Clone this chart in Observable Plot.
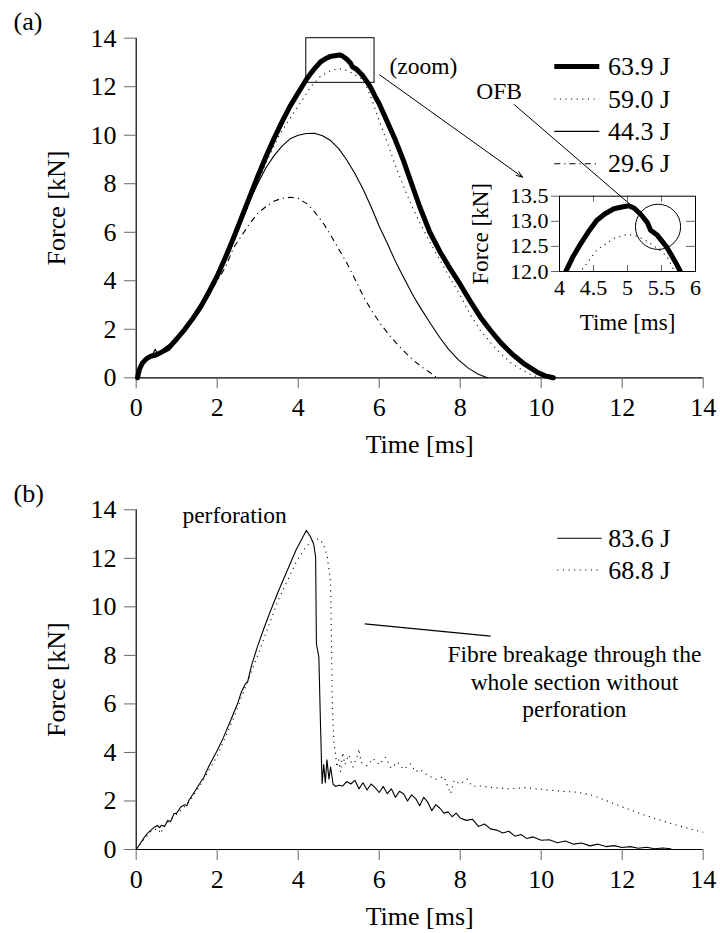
<!DOCTYPE html>
<html><head><meta charset="utf-8">
<script src="https://cdn.jsdelivr.net/npm/d3@7"></script>
<script src="https://cdn.jsdelivr.net/npm/@observablehq/plot@0.6"></script>
<style>
html,body{margin:0;padding:0;background:#fff;}
#chart{position:relative;width:720px;height:933px;background:#fff;overflow:hidden;}
#chart svg{position:absolute;left:0;top:0;}
</style></head><body><div id="chart"></div>
<script>
// ---------- panel (a) data: Force [kN] vs Time [ms] ----------
const t639 = [0.03,0.08,0.15,0.25,0.35,0.5,0.65,0.8,1.0,1.2,1.4,1.6,1.8,2.0,2.2,2.4,2.6,2.8,3.0,3.2,3.4,3.6,3.8,4.0,4.1,4.2,4.31,4.43,4.55,4.67,4.8,4.9,5.02,5.1,5.2,5.29,5.34,5.44,5.58,5.7,5.78,5.9,6.0,6.2,6.4,6.6,6.8,7.0,7.25,7.5,7.75,8.0,8.25,8.5,8.75,9.0,9.3,9.6,9.9,10.1,10.3];
const f639 = [0,0.35,0.6,0.78,0.88,0.95,1.08,1.22,1.6,2.0,2.45,2.95,3.55,4.2,4.95,5.75,6.6,7.45,8.3,9.1,9.85,10.55,11.2,11.75,12.02,12.3,12.55,12.8,13.02,13.15,13.25,13.28,13.31,13.26,13.13,12.98,12.82,12.72,12.48,12.2,11.99,11.6,11.3,10.55,9.8,8.95,8.0,7.05,6.0,5.2,4.5,3.85,3.15,2.5,1.95,1.45,0.95,0.55,0.23,0.08,0];

const t590 = [0.03,0.1,0.2,0.35,0.5,0.7,0.9,1.1,1.3,1.5,1.7,1.9,2.1,2.3,2.5,2.7,2.9,3.1,3.3,3.5,3.7,3.9,4.1,4.31,4.55,4.8,5.0,5.15,5.29,5.45,5.58,5.68,5.8,6.0,6.2,6.4,6.6,6.8,7.0,7.2,7.5,7.75,8.0,8.25,8.5,8.75,9.0,9.25,9.5,9.75,9.98];
const f590 = [0,0.4,0.65,0.85,0.93,1.05,1.35,1.72,2.15,2.6,3.15,3.75,4.45,5.2,6.0,6.8,7.65,8.45,9.2,9.9,10.45,10.95,11.45,12.0,12.43,12.66,12.74,12.7,12.6,12.45,12.3,12.03,11.55,10.6,9.7,8.75,7.9,7.1,6.4,5.75,4.85,4.1,3.4,2.6,1.95,1.45,1.0,0.62,0.35,0.13,0];

const t443 = [0.03,0.1,0.2,0.3,0.42,0.47,0.52,0.6,0.75,0.9,1.05,1.2,1.4,1.6,1.8,2.0,2.2,2.4,2.6,2.8,3.0,3.2,3.4,3.6,3.8,4.0,4.2,4.4,4.6,4.8,5.0,5.2,5.4,5.6,5.8,6.0,6.2,6.4,6.6,6.85,7.05,7.27,7.5,7.7,7.95,8.2,8.45,8.67];
const f443 = [0,0.4,0.65,0.85,1.02,1.18,0.98,1.08,1.3,1.45,1.7,1.95,2.45,2.95,3.55,4.2,4.95,5.7,6.5,7.3,8.0,8.65,9.15,9.55,9.85,10.0,10.07,10.08,9.98,9.78,9.45,8.98,8.42,7.78,7.05,6.25,5.55,4.8,4.15,3.35,2.8,2.23,1.65,1.2,0.75,0.4,0.15,0];

const t296 = [0.03,0.1,0.2,0.3,0.45,0.6,0.8,1.0,1.2,1.4,1.6,1.8,2.0,2.2,2.4,2.6,2.8,3.0,3.2,3.4,3.6,3.81,4.0,4.22,4.4,4.63,4.9,5.21,5.42,5.62,5.82,6.03,6.23,6.44,6.64,6.85,7.05,7.27,7.43];
const f296 = [0,0.4,0.65,0.85,1.0,1.05,1.25,1.55,1.95,2.4,2.9,3.45,4.0,4.55,5.35,5.85,6.35,6.78,7.05,7.28,7.4,7.44,7.4,7.17,6.85,6.35,5.6,4.7,4.0,3.32,2.75,2.23,1.8,1.4,1.05,0.71,0.45,0.2,0];

const seriesALabels = ["63.9 J", "59.0 J", "44.3 J", "29.6 J"];

// ---------- panel (b) data ----------
const t836 = [0,0.1,0.2,0.27,0.35,0.45,0.52,0.58,0.62,0.7,0.78,0.85,0.93,1.0,1.1,1.2,1.25,1.3,1.45,1.6,1.67,1.8,2.0,2.15,2.33,2.5,2.6,2.7,2.75,2.85,2.99,3.15,3.32,3.5,3.73,3.95,4.2,4.3,4.38,4.43,4.45,4.51,4.55,4.59,4.63,4.67,4.71,4.76,4.8,4.86,4.92,5.0,5.1,5.2,5.3,5.4,5.5,5.6,5.7,5.8,5.9,6.0,6.1,6.2,6.3,6.4,6.5,6.6,6.7,6.8,6.9,7.0,7.1,7.2,7.3,7.4,7.5,7.6,7.7,7.8,7.9,8.0,8.15,8.3,8.45,8.6,8.75,8.9,9.05,9.2,9.35,9.5,9.65,9.8,10.0,10.2,10.4,10.6,10.8,11.0,11.2,11.4,11.6,11.8,12.0,12.2,12.4,12.6,12.8,13.0,13.2];
const f836 = [0,0.25,0.5,0.65,0.78,0.92,0.99,0.9,1.0,0.95,1.2,1.15,1.47,1.5,1.75,1.85,1.8,2.02,2.4,2.8,2.98,3.45,4.08,4.6,5.32,6.0,6.5,6.83,6.9,7.6,8.34,9.1,9.85,10.6,11.5,12.35,13.15,12.9,12.6,12.05,8.48,7.93,5.2,2.71,3.5,2.75,3.7,2.9,3.4,2.7,2.6,2.65,2.62,2.8,2.7,2.85,2.5,2.75,2.45,2.7,2.55,2.35,2.6,2.3,2.5,2.15,2.4,2.3,2.0,2.25,2.1,1.8,2.15,1.95,1.6,1.85,1.7,1.5,1.55,1.35,1.5,1.3,1.2,1.25,0.95,1.05,0.85,0.8,0.68,0.75,0.55,0.62,0.45,0.52,0.38,0.4,0.28,0.35,0.22,0.27,0.15,0.22,0.12,0.16,0.08,0.12,0.05,0.09,0.03,0.06,0.03];

const t688 = [0,0.2,0.4,0.55,0.6,0.7,1.0,1.3,1.6,2.0,2.4,2.8,3.0,3.5,3.97,4.2,4.4,4.51,4.62,4.72,4.78,4.8,4.82,4.84,4.88,4.96,5.0,5.05,5.1,5.15,5.25,5.35,5.45,5.5,5.55,5.7,5.85,6.0,6.15,6.3,6.45,6.6,6.77,6.9,7.0,7.2,7.4,7.6,7.76,7.85,8.0,8.17,8.3,8.5,8.8,9.2,9.6,10.0,10.5,10.9,11.3,11.7,12.12,12.5,12.95,13.5,14.0];
const f688 = [0,0.45,0.8,0.85,0.65,1.0,1.45,1.95,2.7,3.85,5.4,7.15,8.0,10.25,11.91,12.5,12.75,12.81,12.6,12.05,11.3,10.95,8.7,6.14,4.49,3.39,3.7,3.2,4.0,3.5,3.9,3.4,3.8,4.15,3.6,3.45,3.75,3.5,3.8,3.35,3.6,3.3,3.53,3.2,3.3,3.05,2.9,3.0,2.3,2.85,2.7,2.9,2.6,2.62,2.55,2.5,2.55,2.48,2.4,2.36,2.22,1.95,1.68,1.45,1.2,0.93,0.71];

const seriesBLabels = ["83.6 J", "68.8 J"];

// ---------- ticks ----------
const xTicks = [0, 2, 4, 6, 8, 10, 12, 14];
const yTicks = [0, 2, 4, 6, 8, 10, 12, 14];
const insetXTicks = [4, 4.5, 5, 5.5, 6];
const insetYTicks = [12, 12.5, 13, 13.5];

// ---------- annotations (data units) ----------
const zoomBox = [{x1: 4.2, x2: 5.885, y1: 12.16, y2: 14}];
const zoomArrow = [{x1: 6.01, y1: 12.49, x2: 9.54, y2: 8.27}];
const zoomLabel = [{x: 7.09, y: 12.83, text: "(zoom)"}];
const ofbLabel = [{x: 3.113, y: 15.58, text: "OFB"}];          // inset units
const ofbLine = [{x1: 3.33, y1: 15.33, x2: 5.24, y2: 13.1}];    // inset units
const ofbCircle = [{x: 5.449, y: 12.89}];                       // inset units
const perfLabel = [{x: 2.43, y: 13.78, text: "perforation"}];
const fibreLine = [{x1: 5.644, y1: 9.30, x2: 8.748, y2: 8.79}];
const fibreLabel = [{x: 10.82, y: 6.95, text: "Fibre breakage through the\nwhole section without\nperforation"}];

// ---------- drawing ----------
const FONT = "'Liberation Serif', 'Times New Roman', serif";
const W = 720, H = 933;
const rows = (t, f) => t.map((x, i) => ({t: x, f: f[i]}));
const DOT = "1.1 4.5", DASHDOT = "6 4 1.2 4";
const ANN = 23.5;

const seriesA = [
  {label: seriesALabels[0], data: rows(t639, f639), sw: 5, dash: null},
  {label: seriesALabels[1], data: rows(t590, f590), sw: 1.1, dash: DOT},
  {label: seriesALabels[2], data: rows(t443, f443), sw: 1.1, dash: null},
  {label: seriesALabels[3], data: rows(t296, f296), sw: 1.1, dash: DASHDOT}
];
const seriesB = [
  {label: seriesBLabels[0], data: rows(t836, f836), sw: 1.1, dash: null},
  {label: seriesBLabels[1], data: rows(t688, f688), sw: 1.1, dash: DOT}
];

const lineMarks = (series, extra = {}) => series.map(s =>
  Plot.line(s.data, {x: "t", y: "f", stroke: "#000", strokeWidth: s.sw,
    strokeDasharray: s.dash, strokeLinejoin: "round", strokeLinecap: s.dash ? "butt" : "round", ...extra}));

const style = (fs) => ({fontFamily: FONT, fontSize: fs + "px", background: "none", overflow: "visible", color: "#000"});

function axesMarks() {
  return [
    Plot.ruleX([0], {stroke: "#000", strokeWidth: 1.2}),
    Plot.ruleY([0], {stroke: "#000", strokeWidth: 1.2}),
    Plot.axisX({ticks: xTicks, tickSize: 11, tickPadding: 9, fontSize: 26, stroke: "#666", strokeWidth: 1, label: null, tickFormat: d => String(d)}),
    Plot.axisY({ticks: yTicks, tickSize: 11.7, tickPadding: 8, fontSize: 26, stroke: "#666", strokeWidth: 1, label: null, tickFormat: d => String(d)}),
    Plot.text(["Time [ms]"], {text: d => d, frameAnchor: "bottom", lineAnchor: "middle", textAnchor: "middle", dy: 67, fontSize: 26}),
    Plot.text(["Force [kN]"], {text: d => d, frameAnchor: "left", lineAnchor: "middle", textAnchor: "middle", dx: -80, rotate: -90, fontSize: 26})
  ];
}

const plotA = Plot.plot({
  width: W, height: H, style: style(26),
  marginLeft: 135.7, marginRight: W - 702.7, marginTop: 37.7, marginBottom: H - 377.3,
  x: {domain: [0, 14]}, y: {domain: [0, 14]},
  marks: [
    ...axesMarks(),
    Plot.text(["(a)"], {text: d => d, frameAnchor: "top-left", lineAnchor: "middle", dx: -122.7, dy: -16.2, textAnchor: "start", fontSize: 26}),
    ...lineMarks(seriesA.slice().reverse()),
    Plot.rect(zoomBox, {x1: "x1", x2: "x2", y1: "y1", y2: "y2", fill: "none", stroke: "#000", strokeWidth: 1}),
    Plot.arrow(zoomArrow, {x1: "x1", y1: "y1", x2: "x2", y2: "y2", stroke: "#000", strokeWidth: 1, headLength: 10, headAngle: 40}),
    Plot.text(zoomLabel, {x: "x", y: "y", text: "text", fontSize: ANN})
  ]
});

const plotInset = Plot.plot({
  width: W, height: H, style: style(22),
  marginLeft: 559, marginRight: W - 695, marginTop: 195.7, marginBottom: H - 271,
  x: {domain: [4, 6]}, y: {domain: [12, 13.5]},
  marks: [
    Plot.axisX({ticks: insetXTicks, tickSize: 0, tickPadding: 8, fontSize: 22, label: null, tickFormat: d => String(d)}),
    Plot.axisY({ticks: insetYTicks, tickSize: 8, tickPadding: 3, fontSize: 22, stroke: "#666", label: null, tickFormat: d3.format(".1f")}),
    Plot.tickX(insetXTicks.slice(1, -1), {x: d => d, insetTop: 75.3 - 6, stroke: "#666"}),
    Plot.tickX(insetXTicks.slice(1, -1), {x: d => d, insetBottom: 75.3 - 6, stroke: "#666"}),
    Plot.tickY(insetYTicks.slice(1, -1), {y: d => d, insetLeft: 136 - 9, stroke: "#666"}),
    ...lineMarks(seriesA.slice(0, 2).reverse(), {clip: true}),
    Plot.frame({stroke: "#000", strokeWidth: 1}),
    Plot.dot(ofbCircle, {x: "x", y: "y", r: 22.6, fill: "none", stroke: "#000", strokeWidth: 1}),
    Plot.link(ofbLine, {x1: "x1", y1: "y1", x2: "x2", y2: "y2", stroke: "#000", strokeWidth: 1}),
    Plot.text(ofbLabel, {x: "x", y: "y", text: "text", fontSize: ANN}),
    Plot.text(["Time [ms]"], {text: d => d, frameAnchor: "bottom", lineAnchor: "middle", textAnchor: "middle", dy: 51, fontSize: 23}),
    Plot.text(["Force [kN]"], {text: d => d, frameAnchor: "left", lineAnchor: "middle", textAnchor: "middle", dx: -79, rotate: -90, fontSize: 23})
  ]
});

const plotB = Plot.plot({
  width: W, height: H, style: style(26),
  marginLeft: 135.7, marginRight: W - 702.7, marginTop: 509.3, marginBottom: H - 849,
  x: {domain: [0, 14]}, y: {domain: [0, 14]},
  marks: [
    ...axesMarks(),
    Plot.text(["(b)"], {text: d => d, frameAnchor: "top-left", lineAnchor: "middle", dx: -122.7, dy: -16.3, textAnchor: "start", fontSize: 26}),
    ...lineMarks(seriesB.slice().reverse()),
    Plot.text(perfLabel, {x: "x", y: "y", text: "text", fontSize: ANN}),
    Plot.link(fibreLine, {x1: "x1", y1: "y1", x2: "x2", y2: "y2", stroke: "#000", strokeWidth: 1.2}),
    Plot.text(fibreLabel, {x: "x", y: "y", text: "text", fontSize: ANN, lineHeight: 1.15})
  ]
});

const root = document.getElementById("chart");
root.append(plotA, plotB, plotInset);

// legends
const leg = d3.select(root).append("svg").attr("width", W).attr("height", H)
  .style("font-family", FONT).style("font-size", "26px").style("pointer-events", "none");
function legend(series, x0, x1, xt, y0, step) {
  series.forEach((s, i) => {
    const y = y0 + i * step;
    leg.append("line").attr("x1", x0).attr("x2", x1).attr("y1", y).attr("y2", y)
      .attr("stroke", "#000").attr("stroke-width", s.sw)
      .attr("stroke-dasharray", s.dash).attr("stroke-linecap", "butt");
    leg.append("text").attr("x", xt).attr("y", y + 8.5).text(s.label);
  });
}
legend(seriesA, 554.3, 599.3, 608, 66.6, 32.4);
legend(seriesB, 557.3, 601.7, 608.3, 538.3, 31.7);
</script></body></html>
